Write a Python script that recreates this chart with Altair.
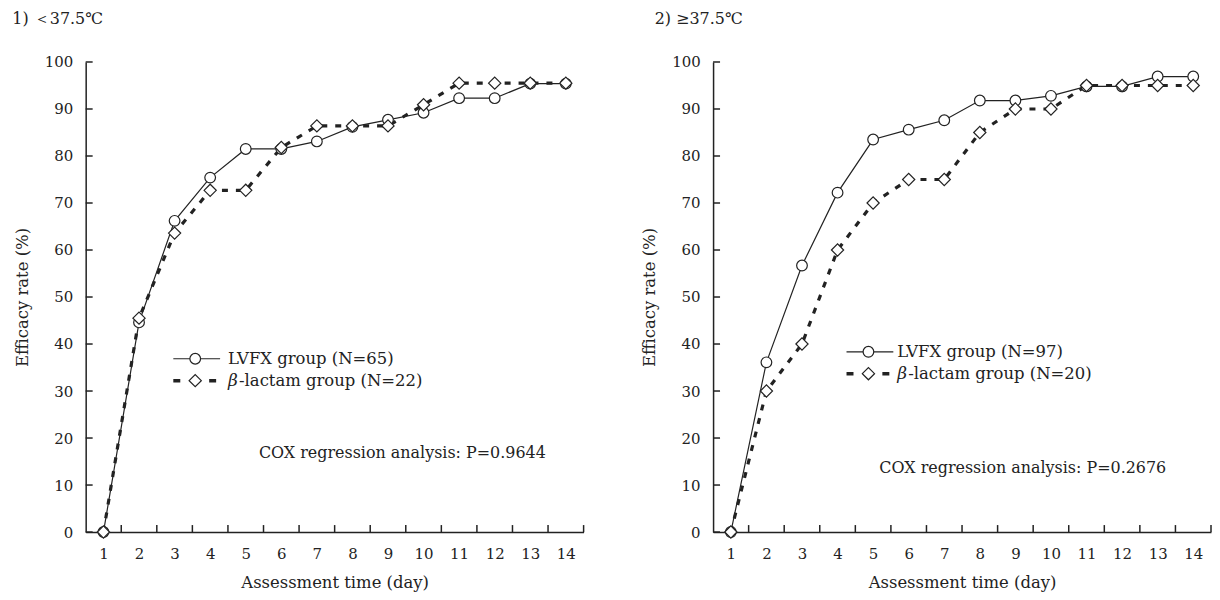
import altair as alt
import pandas as pd

# ---------------- data ----------------
days = list(range(1, 15))
lvfx_low = [0, 44.6, 66.2, 75.4, 81.5, 81.5, 83.1, 86.2, 87.7, 89.2, 92.3, 92.3, 95.4, 95.4]
beta_low = [0, 45.5, 63.6, 72.7, 72.7, 81.8, 86.4, 86.4, 86.4, 90.9, 95.5, 95.5, 95.5, 95.5]
lvfx_high = [0, 36.1, 56.7, 72.2, 83.5, 85.6, 87.6, 91.8, 91.8, 92.8, 94.8, 94.8, 96.9, 96.9]
beta_high = [0, 30, 40, 60, 70, 75, 75, 85, 90, 90, 95, 95, 95, 95]

y_ticks = list(range(0, 101, 10))
x_minor_ticks = [d + 0.5 for d in range(1, 15)]

panel_titles = ["1) ＜37.5℃", "2) ≥37.5℃"]
lvfx_labels = ["LVFX group (N=65)", "LVFX group (N=97)"]
beta_labels = ["-lactam group (N=22)", "-lactam group (N=20)"]
cox_labels = ["COX regression analysis: P=0.9644", "COX regression analysis: P=0.2676"]

# ---------------- styling ----------------
W, H = 500, 472
FONT = "DejaVu Serif"
INK = "#222222"

xscale = alt.Scale(domain=[0.5, 14.5], nice=False, zero=False)
yscale = alt.Scale(domain=[0, 100], nice=False)
xaxis = alt.Axis(values=days, title="Assessment time (day)", ticks=False,
                 labelPadding=15, titlePadding=13, grid=False, labelAngle=0, format="d")
yaxis = alt.Axis(values=y_ticks, title="Efficacy rate (%)", ticks=False,
                 labelPadding=13, titlePadding=14, grid=False)


def X(field):
    return alt.X(field, scale=xscale, axis=xaxis, title="Assessment time (day)")


def Y(field):
    return alt.Y(field, scale=yscale, axis=yaxis, title="Efficacy rate (%)")


def panel(lv, be, title, lvl, bel, cox, leg, cox_pos, title_dx):
    df = pd.DataFrame({"day": days, "lvfx": lv, "beta": be})
    base = alt.Chart(df)
    one = pd.DataFrame({"k": [0]})

    lv_line = base.mark_line(color=INK, strokeWidth=1.2).encode(
        x=X("day:Q"), y=Y("lvfx:Q"))
    be_line = base.mark_line(color=INK, strokeWidth=3.2, strokeDash=[6, 8]).encode(
        x=X("day:Q"), y=Y("beta:Q"))
    lv_pts = base.mark_point(shape="circle", filled=True, fill="white", stroke=INK,
                             strokeWidth=1.2, size=115, opacity=1).encode(
        x=X("day:Q"), y=Y("lvfx:Q"))
    be_pts = base.mark_point(shape="diamond", filled=True, fill="white", stroke=INK,
                             strokeWidth=1.2, size=150, opacity=1).encode(
        x=X("day:Q"), y=Y("beta:Q"))
    ytick_rules = alt.Chart(pd.DataFrame({"yt": y_ticks})).mark_rule(
        color=INK, strokeWidth=1.5).encode(
        y=Y("yt:Q"), x=alt.value(0), x2=alt.value(7))
    xtick_rules = alt.Chart(pd.DataFrame({"xt": x_minor_ticks})).mark_rule(
        color=INK, strokeWidth=1.5).encode(
        x=X("xt:Q"), y=alt.value(H - 7), y2=alt.value(H))

    lx0, lcx, tx, ly1, ly2 = leg
    leg_line1 = alt.Chart(one).mark_rule(color=INK, strokeWidth=1.2).encode(
        x=alt.value(lx0), x2=alt.value(lx0 + 47), y=alt.value(ly1))
    leg_pt1 = alt.Chart(one).mark_point(shape="circle", filled=True, fill="white",
                                        stroke=INK, strokeWidth=1.2, size=115,
                                        opacity=1).encode(
        x=alt.value(lcx), y=alt.value(ly1))
    leg_line2 = alt.Chart(one).mark_rule(color=INK, strokeWidth=3.5,
                                         strokeDash=[7, 29]).encode(
        x=alt.value(lx0), x2=alt.value(lx0 + 43), y=alt.value(ly2))
    leg_pt2 = alt.Chart(one).mark_point(shape="diamond", filled=True, fill="white",
                                        stroke=INK, strokeWidth=1.2, size=150,
                                        opacity=1).encode(
        x=alt.value(lcx), y=alt.value(ly2))
    leg_txt1 = alt.Chart(one).mark_text(align="left", baseline="middle", font=FONT,
                                        fontSize=16.5, color=INK, text=lvl).encode(
        x=alt.value(tx), y=alt.value(ly1))
    leg_beta = alt.Chart(one).mark_text(align="left", baseline="middle", font=FONT,
                                        fontSize=17, color=INK, fontStyle="italic",
                                        text="β").encode(
        x=alt.value(tx), y=alt.value(ly2))
    leg_txt2 = alt.Chart(one).mark_text(align="left", baseline="middle", font=FONT,
                                        fontSize=16.5, color=INK, text=bel).encode(
        x=alt.value(tx + 11), y=alt.value(ly2))
    cox_txt = alt.Chart(one).mark_text(align="center", baseline="middle", font=FONT,
                                       fontSize=16, color=INK, text=cox).encode(
        x=alt.value(cox_pos[0]), y=alt.value(cox_pos[1]))

    return alt.layer(
        lv_line, be_line, lv_pts, be_pts, ytick_rules, xtick_rules,
        leg_line1, leg_pt1, leg_line2, leg_pt2, leg_txt1, leg_beta, leg_txt2, cox_txt,
    ).properties(
        width=W, height=H,
        title=alt.TitleParams(text=title, anchor="start", font=FONT, fontSize=16,
                              fontWeight="normal", color=INK, dx=title_dx, offset=28),
    )


left = panel(lvfx_low, beta_low, panel_titles[0], lvfx_labels[0], beta_labels[0],
             cox_labels[0], (88, 110, 143, 298, 320), (318, 393), -2)
right = panel(lvfx_high, beta_high, panel_titles[1], lvfx_labels[1], beta_labels[1],
              cox_labels[1], (134, 156, 185, 291, 313), (311, 408), 13)

chart = alt.hconcat(left, right, spacing=57).configure_view(stroke=None).configure_axis(
    domainColor=INK, domainWidth=1.5, labelFont=FONT, labelFontSize=15, labelColor=INK,
    titleFont=FONT, titleFontSize=16.5, titleFontWeight="normal", titleColor=INK,
).properties(padding={"left": 4, "top": 2, "right": 0, "bottom": 0})

chart.save("out.html", embed_options={"renderer": "svg", "actions": False})
